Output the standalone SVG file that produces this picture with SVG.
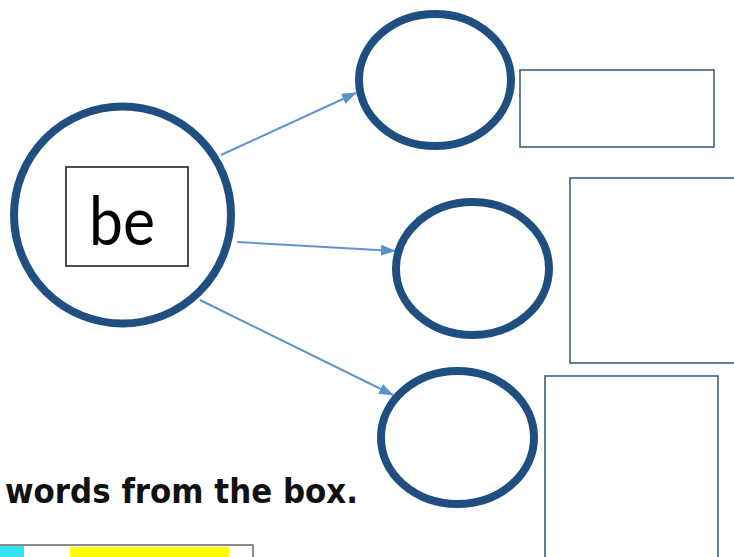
<svg xmlns="http://www.w3.org/2000/svg" width="734" height="557" viewBox="0 0 734 557">
<style>
.ring{fill:none;stroke:#1f4f80;stroke-width:8}
.box{fill:none;stroke:#3f5f80;stroke-width:1.6}
.conn{stroke:#6094cc;stroke-width:2;fill:none}
</style>
<defs>
<marker id="ah" markerUnits="userSpaceOnUse" markerWidth="15" markerHeight="11" refX="14" refY="5.5" orient="auto">
<path d="M0,0 L15,5.5 L0,11 Z" fill="#5b90cc"/>
</marker>
</defs>
<rect width="734" height="557" fill="#ffffff"/>
<g id="connectors">
<line class="conn" x1="221" y1="155" x2="356" y2="93" marker-end="url(#ah)"/>
<line class="conn" x1="237" y1="242" x2="395" y2="251" marker-end="url(#ah)"/>
<line class="conn" x1="200" y1="300" x2="393" y2="395" marker-end="url(#ah)"/>
</g>
<g id="node-be">
<circle class="ring" cx="122.5" cy="215" r="108.5"/>
<rect x="66" y="167" width="122" height="99" fill="none" stroke="#222" stroke-width="1.6"/>
<text x="89" y="245" font-family="Lato, 'Open Sans', sans-serif" font-size="68" textLength="66" lengthAdjust="spacingAndGlyphs" fill="#000">be</text>
</g>
<g id="node-top">
<ellipse class="ring" cx="435" cy="80" rx="76" ry="66"/>
</g>
<g id="box-top">
<rect class="box" x="520" y="70" width="194" height="77"/>
</g>
<g id="node-mid">
<ellipse class="ring" cx="472.5" cy="268.5" rx="76.5" ry="66.5"/>
</g>
<g id="box-mid">
<rect class="box" x="570" y="178" width="180" height="185"/>
</g>
<g id="node-bottom">
<ellipse class="ring" cx="457.5" cy="437.5" rx="76.5" ry="66.5"/>
</g>
<g id="box-bottom">
<rect class="box" x="545" y="376" width="173" height="200"/>
</g>
<g id="instruction">
<text x="5" y="503" font-family="'DejaVu Sans', sans-serif" font-weight="bold" font-size="33" textLength="353" lengthAdjust="spacingAndGlyphs" fill="#111">words from the box.</text>
</g>
<g id="word-box">
<rect x="0" y="546" width="24" height="20" fill="#33e0f0"/>
<rect x="70" y="547" width="159" height="20" fill="#ffff00"/>
<rect x="-2" y="545" width="255" height="30" fill="none" stroke="#666" stroke-width="1.5"/>
</g>
</svg>
